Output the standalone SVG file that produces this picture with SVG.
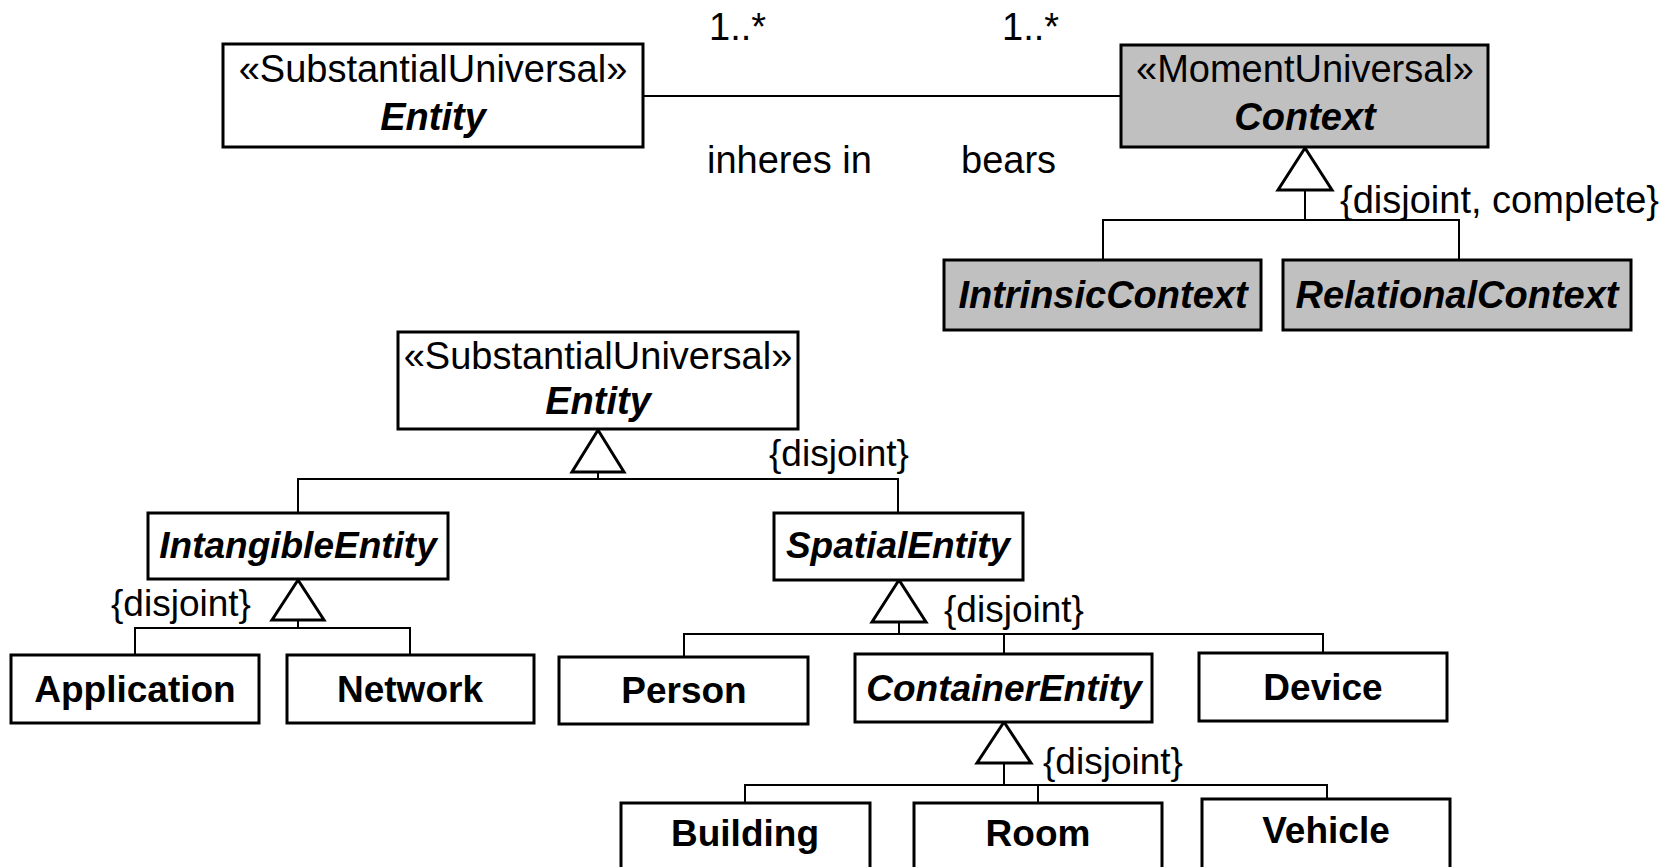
<svg xmlns="http://www.w3.org/2000/svg" width="1668" height="867" viewBox="0 0 1668 867">
  <style>
    .box { fill: #ffffff; stroke: #000000; stroke-width: 3; }
    .moment { fill: #c0c0c0; stroke: #000000; stroke-width: 3; }
    .line { fill: none; stroke: #000000; stroke-width: 2; }
    .tri { fill: #ffffff; stroke: #000000; stroke-width: 3; stroke-linejoin: miter; }
    text { font-family: "Liberation Sans", Arial, sans-serif; fill: #000000; }
    .st { font-size: 38px; text-anchor: middle; }
    .abs { font-size: 38px; font-weight: bold; font-style: italic; text-anchor: middle; }
    .cls { font-size: 37px; font-weight: bold; text-anchor: middle; }
    .absm { font-size: 37px; font-weight: bold; font-style: italic; text-anchor: middle; }
    .lbl { font-size: 38px; }
    .con { font-size: 37px; }
  </style>

  <!-- connectors: association and generalization sets -->
  <g id="connectors">
    <!-- association Entity – Context -->
    <line class="line" x1="643" y1="96" x2="1121" y2="96"/>
    <text class="lbl" x="709" y="40">1..*</text>
    <text class="lbl" x="1002" y="40">1..*</text>
    <text class="lbl" x="707" y="173">inheres in</text>
    <text class="lbl" x="961" y="173">bears</text>

    <!-- Context specializations -->
    <polyline class="line" points="1103,260 1103,220 1459,220 1459,260"/>
    <line class="line" x1="1305" y1="190" x2="1305" y2="220"/>
    <polygon class="tri" points="1305,148 1278,190 1332,190"/>
    <text class="lbl" x="1340" y="213">{disjoint, complete}</text>

    <!-- Entity specializations -->
    <polyline class="line" points="298,513 298,479 898,479 898,513"/>
    <line class="line" x1="598" y1="472" x2="598" y2="479"/>
    <polygon class="tri" points="598,430 572,472 624,472"/>
    <text class="con" x="769" y="466">{disjoint}</text>

    <!-- IntangibleEntity specializations -->
    <polyline class="line" points="135,655 135,628 410,628 410,655"/>
    <line class="line" x1="298" y1="620" x2="298" y2="628"/>
    <polygon class="tri" points="298,580 272,620 324,620"/>
    <text class="con" x="111" y="616">{disjoint}</text>

    <!-- SpatialEntity specializations -->
    <polyline class="line" points="684,656 684,634 1323,634 1323,653"/>
    <line class="line" x1="899" y1="622" x2="899" y2="634"/>
    <line class="line" x1="1004" y1="634" x2="1004" y2="654"/>
    <polygon class="tri" points="899,580 872,622 926,622"/>
    <text class="con" x="944" y="622">{disjoint}</text>

    <!-- ContainerEntity specializations -->
    <polyline class="line" points="745,803 745,785 1327,785 1327,799"/>
    <line class="line" x1="1004" y1="763" x2="1004" y2="785"/>
    <line class="line" x1="1038" y1="785" x2="1038" y2="803"/>
    <polygon class="tri" points="1004,722 977,763 1031,763"/>
    <text class="con" x="1043" y="774">{disjoint}</text>
  </g>

  <g id="entity-top">
    <rect class="box" x="223" y="44" width="420" height="103"/>
    <text class="st" x="433" y="82">«SubstantialUniversal»</text>
    <text class="abs" x="433" y="130">Entity</text>
  </g>

  <g id="context">
    <rect class="moment" x="1121" y="45" width="367" height="102"/>
    <text class="st" x="1305" y="82">«MomentUniversal»</text>
    <text class="abs" x="1305" y="130">Context</text>
  </g>

  <g id="intrinsic-context">
    <rect class="moment" x="944" y="260" width="317" height="70"/>
    <text class="abs" x="1103" y="308">IntrinsicContext</text>
  </g>

  <g id="relational-context">
    <rect class="moment" x="1283" y="260" width="348" height="70"/>
    <text class="abs" x="1457" y="308">RelationalContext</text>
  </g>

  <g id="entity">
    <rect class="box" x="398" y="332" width="400" height="97"/>
    <text class="st" x="598" y="369">«SubstantialUniversal»</text>
    <text class="abs" x="598" y="414">Entity</text>
  </g>

  <g id="intangible-entity">
    <rect class="box" x="148" y="513" width="300" height="66"/>
    <text class="absm" x="298" y="558">IntangibleEntity</text>
  </g>

  <g id="spatial-entity">
    <rect class="box" x="774" y="513" width="249" height="67"/>
    <text class="absm" x="898" y="558">SpatialEntity</text>
  </g>

  <g id="application">
    <rect class="box" x="11" y="655" width="248" height="68"/>
    <text class="cls" x="135" y="702">Application</text>
  </g>

  <g id="network">
    <rect class="box" x="287" y="655" width="247" height="68"/>
    <text class="cls" x="410" y="702">Network</text>
  </g>

  <g id="person">
    <rect class="box" x="559" y="657" width="249" height="67"/>
    <text class="cls" x="684" y="703">Person</text>
  </g>

  <g id="container-entity">
    <rect class="box" x="855" y="654" width="297" height="68"/>
    <text class="absm" x="1004" y="701">ContainerEntity</text>
  </g>

  <g id="device">
    <rect class="box" x="1199" y="653" width="248" height="68"/>
    <text class="cls" x="1323" y="700">Device</text>
  </g>

  <g id="building">
    <rect class="box" x="621" y="803" width="249" height="90"/>
    <text class="cls" x="745" y="846">Building</text>
  </g>

  <g id="room">
    <rect class="box" x="914" y="803" width="248" height="90"/>
    <text class="cls" x="1038" y="846">Room</text>
  </g>

  <g id="vehicle">
    <rect class="box" x="1202" y="799" width="248" height="90"/>
    <text class="cls" x="1326" y="843">Vehicle</text>
  </g>
</svg>
